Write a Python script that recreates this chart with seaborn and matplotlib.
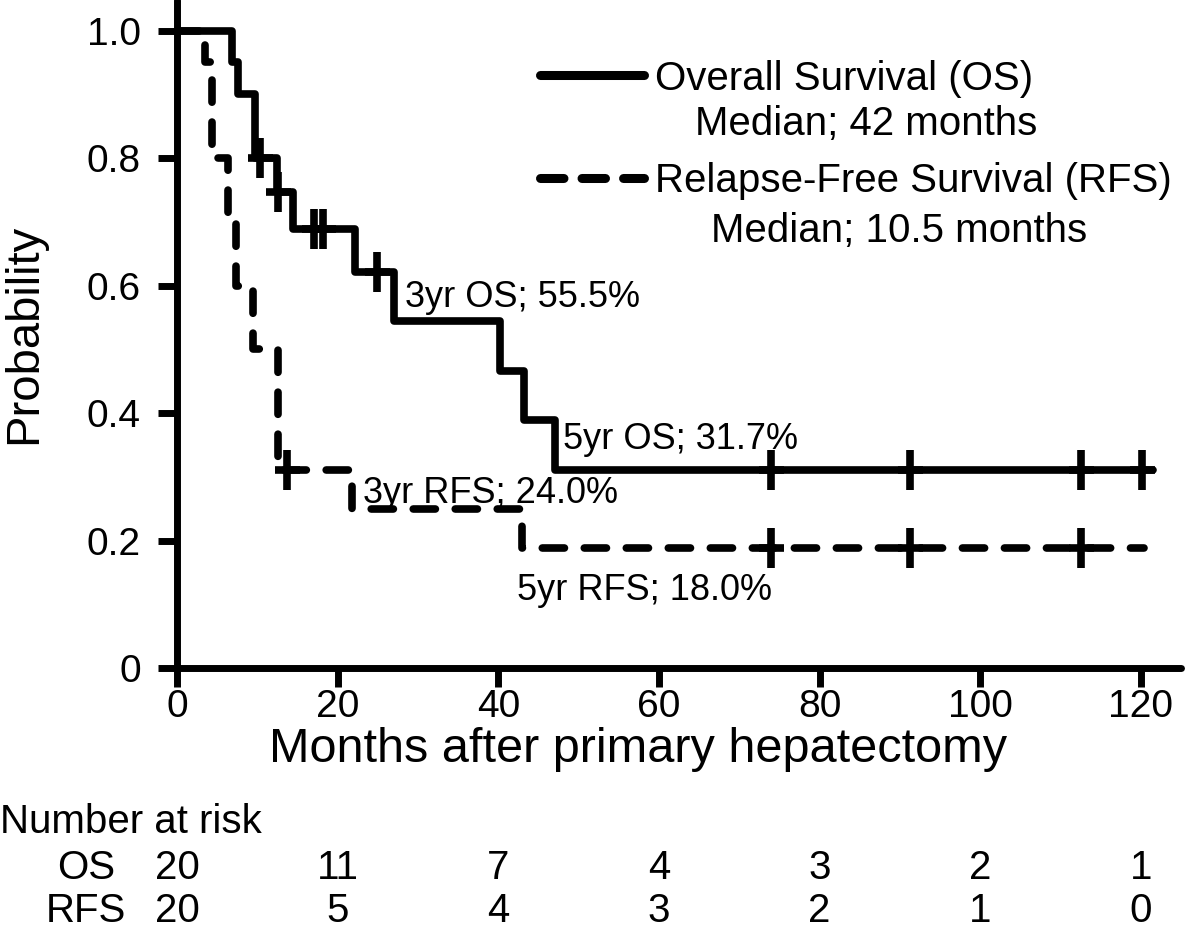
"""
Kaplan-Meier curves: overall survival (OS) and relapse-free survival (RFS)
after primary hepatectomy, with number-at-risk table underneath.
"""
import matplotlib
matplotlib.use("Agg")
import matplotlib.pyplot as plt
import matplotlib.transforms as mtransforms
from matplotlib.lines import Line2D
import seaborn as sns

# ---- data ----
os_time = [0, 6.8, 7.6, 9.7, 12.4, 14.4, 22.2, 27.0, 40.2, 43.2, 47.0, 121.5]
os_surv = [1.0, 0.95, 0.90, 0.80, 0.747, 0.689, 0.622, 0.544, 0.466, 0.389, 0.311, 0.311]
os_cens_time = [10.3, 12.6, 17.0, 18.2, 24.9, 74.0, 91.2, 112.5, 120.2]
os_cens_surv = [0.80, 0.747, 0.689, 0.689, 0.622, 0.311, 0.311, 0.311, 0.311]

rfs_time = [0, 3.5, 4.4, 6.4, 7.4, 9.5, 12.6, 21.8, 43.0, 120.4]
rfs_surv = [1.0, 0.95, 0.80, 0.70, 0.60, 0.50, 0.31, 0.25, 0.188, 0.188]
rfs_cens_time = [13.7, 74.0, 91.2, 112.5]
rfs_cens_surv = [0.31, 0.188, 0.188, 0.188]

risk_times = [0, 20, 40, 60, 80, 100, 120]
risk_os = [20, 11, 7, 4, 3, 2, 1]
risk_rfs = [20, 5, 4, 3, 2, 1, 0]

x_ticks = [0, 20, 40, 60, 80, 100, 120]
y_ticks = [0, 0.2, 0.4, 0.6, 0.8, 1.0]
y_ticklabels = ["0", "0.2", "0.4", "0.6", "0.8", "1.0"]

# ---- style ----
sns.set_style("ticks")
plt.rcParams["font.family"] = ["Liberation Sans", "DejaVu Sans"]
plt.rcParams.update({"text.color": "black", "axes.labelcolor": "black",
                     "axes.edgecolor": "black", "xtick.color": "black",
                     "ytick.color": "black"})
LW = 5.5
DASH = (0, (2.9, 2.6))
W, H = 1185, 932


def fx(px):
    return px / W


def fy(py):
    return 1 - py / H


fig = plt.figure(figsize=(W / 100, H / 100), dpi=100)
ax = fig.add_axes([fx(177), fy(668), (1181 - 177) / W, 668 / H])

sns.lineplot(x=os_time, y=os_surv, drawstyle="steps-post", color="black",
             linewidth=LW, estimator=None, sort=False, ax=ax,
             solid_capstyle="round", solid_joinstyle="round", clip_on=False)
sns.lineplot(x=rfs_time, y=rfs_surv, drawstyle="steps-post", color="black",
             linewidth=LW, estimator=None, sort=False, ax=ax, linestyle=DASH,
             dash_capstyle="round", dash_joinstyle="round", clip_on=False)

# censor marks: tall '+'
for t, s in ((os_cens_time, os_cens_surv), (rfs_cens_time, rfs_cens_surv)):
    ax.plot(t, s, ls="none", marker="|", ms=29, mew=LW, color="black", clip_on=False)
    ax.plot(t, s, ls="none", marker="_", ms=18, mew=LW, color="black", clip_on=False)

ax.set_xlim(0, 125)
ax.set_ylim(0, 1.048)
ax.set_xticks(x_ticks)
ax.set_yticks(y_ticks)
ax.set_yticklabels(y_ticklabels)
sns.despine(ax=ax)
for sp in ("left", "bottom"):
    ax.spines[sp].set_linewidth(5)
    ax.spines[sp].set_color("black")
    ax.spines[sp].set_capstyle("round")
ax.tick_params(axis="both", direction="out", length=14, width=5,
               labelsize=28, color="black", labelcolor="black")
ax.tick_params(axis="x", pad=1)
ax.tick_params(axis="y", pad=12)

ax.set_ylabel("Probability", fontsize=34)
ax.yaxis.set_label_coords((46 - 177) / 1004, 0.5)
ax.set_xlabel("Months after primary hepatectomy", fontsize=35)
ax.xaxis.label.set_va("baseline")
ax.xaxis.set_label_coords((638 - 177) / 1004, (668 - 762) / 668)

# curve annotations
ann = dict(fontsize=26, ha="left", va="center", color="black")
ax.text(28.4, 0.582, "3yr OS; 55.5%", **ann)
ax.text(48.0, 0.358, "5yr OS; 31.7%", **ann)
ax.text(23.2, 0.2745, "3yr RFS; 24.0%", **ann)
ax.text(42.3, 0.122, "5yr RFS; 18.0%", **ann)

# legend drawn by hand (second lines are offset, not centred)
fig.add_artist(Line2D([fx(540), fx(644)], [fy(75), fy(75)], lw=6.5, color="black",
                      solid_capstyle="round", transform=fig.transFigure))
fig.add_artist(Line2D([fx(540), fx(644)], [fy(178), fy(178)], lw=6.5, color="black",
                      linestyle=(0, (2.6, 2.0)), dash_capstyle="round",
                      transform=fig.transFigure))
leg = dict(fontsize=29, va="baseline", color="black")
fig.text(fx(655), fy(90), "Overall Survival (OS)", ha="left", **leg)
fig.text(fx(866), fy(135), "Median; 42 months", ha="center", **leg)
fig.text(fx(655), fy(192), "Relapse-Free Survival (RFS)", ha="left", **leg)
fig.text(fx(899), fy(242), "Median; 10.5 months", ha="center", **leg)

# number at risk table
trans = mtransforms.blended_transform_factory(ax.transData, fig.transFigure)
fig.text(fx(0), fy(833), "Number at risk", ha="left", va="baseline", fontsize=29)
fig.text(fx(86), fy(879), "OS", ha="center", va="baseline", fontsize=29)
fig.text(fx(86), fy(922), "RFS", ha="center", va="baseline", fontsize=29)
for t, n_os, n_rfs in zip(risk_times, risk_os, risk_rfs):
    ax.text(t, fy(879), str(n_os), transform=trans, ha="center", va="baseline",
            fontsize=29, clip_on=False)
    ax.text(t, fy(922), str(n_rfs), transform=trans, ha="center", va="baseline",
            fontsize=29, clip_on=False)

fig.savefig("out.png", dpi=100)
